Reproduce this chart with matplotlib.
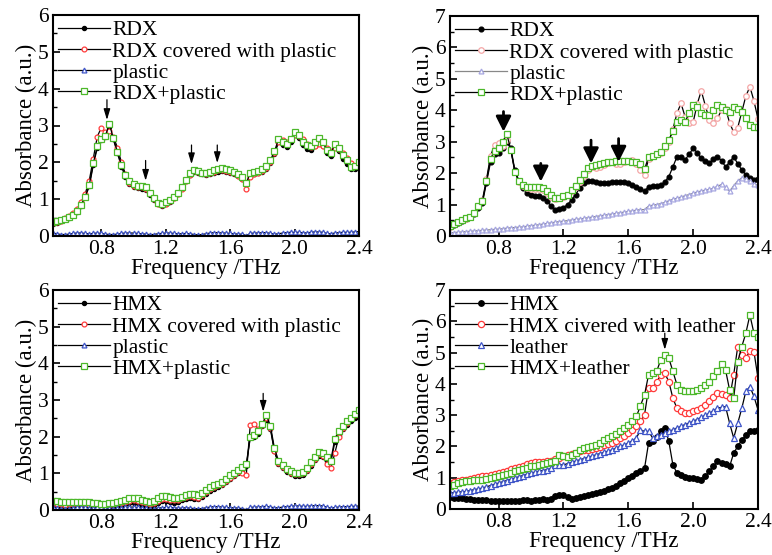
import numpy as np
import matplotlib
matplotlib.use("Agg")
import matplotlib.pyplot as plt

plt.rcParams['font.family'] = ['Liberation Serif', 'DejaVu Serif']
plt.rcParams['font.size'] = 13

# frekuensi (THz), langkah 0.025 dari 0.5 s/d 2.4
freq = np.round(np.arange(0.5, 2.4001, 0.025), 3)

# ---------------- panel (a): RDX / plastic ----------------
rdx_a = [0.33, 0.36, 0.40, 0.45, 0.50, 0.56, 0.66, 0.82, 1.05, 1.35, 1.92, 2.40,
         2.60, 2.68, 2.95, 2.62, 2.25, 1.88, 1.60, 1.42, 1.32, 1.29, 1.28, 1.25,
         1.12, 0.97, 0.86, 0.82, 0.86, 0.93, 1.02, 1.13, 1.30, 1.48, 1.65, 1.74,
         1.71, 1.67, 1.66, 1.69, 1.72, 1.75, 1.76, 1.74, 1.71, 1.67, 1.62, 1.55,
         1.40, 1.62, 1.67, 1.70, 1.75, 1.83, 1.98, 2.22, 2.55, 2.48, 2.42, 2.55,
         2.75, 2.65, 2.48, 2.36, 2.34, 2.45, 2.56, 2.45, 2.25, 2.17, 2.42, 2.30,
         2.10, 1.96, 1.82, 1.82, 1.90]
rdx_cov_a = [0.35, 0.38, 0.42, 0.48, 0.55, 0.62, 0.74, 0.92, 1.15, 1.50, 2.10, 2.70,
             2.94, 2.82, 2.86, 2.70, 2.40, 2.00, 1.68, 1.45, 1.35, 1.32, 1.32, 1.28,
             1.16, 1.00, 0.88, 0.84, 0.88, 0.94, 1.02, 1.13, 1.28, 1.48, 1.66, 1.76,
             1.73, 1.70, 1.68, 1.71, 1.74, 1.78, 1.79, 1.77, 1.74, 1.70, 1.64, 1.55,
             1.28, 1.60, 1.68, 1.72, 1.76, 1.85, 2.00, 2.25, 2.55, 2.60, 2.55, 2.62,
             2.75, 2.72, 2.62, 2.50, 2.42, 2.45, 2.50, 2.45, 2.38, 2.30, 2.38, 2.35,
             2.25, 2.12, 1.98, 1.90, 1.90]
plastic_a = [0.08, 0.06, 0.04, 0.04, 0.05, 0.07, 0.08, 0.08, 0.07, 0.06, 0.07, 0.08,
             0.07, 0.05, 0.04, 0.04, 0.05, 0.07, 0.08, 0.08, 0.08, 0.07, 0.06, 0.05,
             0.04, 0.04, 0.06, 0.07, 0.08, 0.08, 0.07, 0.06, 0.06, 0.07, 0.06, 0.04,
             0.03, 0.04, 0.06, 0.08, 0.09, 0.09, 0.08, 0.08, 0.07, 0.06, 0.05, 0.05,
             0.01, 0.07, 0.08, 0.08, 0.09, 0.09, 0.07, 0.05, 0.06, 0.08, 0.09, 0.10,
             0.10, 0.10, 0.09, 0.08, 0.10, 0.11, 0.11, 0.10, 0.07, 0.06, 0.08, 0.09,
             0.10, 0.10, 0.10, 0.11, 0.12]
rdx_mix_a = [0.39, 0.41, 0.43, 0.47, 0.52, 0.58, 0.68, 0.85, 1.07, 1.38, 1.97, 2.43,
             2.62, 2.72, 3.04, 2.65, 2.29, 1.93, 1.66, 1.48, 1.40, 1.37, 1.36, 1.32,
             1.18, 1.02, 0.90, 0.87, 0.91, 0.98, 1.07, 1.18, 1.34, 1.52, 1.70, 1.79,
             1.76, 1.72, 1.71, 1.74, 1.78, 1.82, 1.84, 1.82, 1.79, 1.75, 1.69, 1.61,
             1.45, 1.70, 1.74, 1.77, 1.82, 1.90, 2.06, 2.30, 2.62, 2.56, 2.50, 2.62,
             2.83, 2.74, 2.56, 2.46, 2.43, 2.55, 2.65, 2.55, 2.33, 2.24, 2.50, 2.40,
             2.20, 2.05, 1.88, 1.90, 2.00]

# ---------------- panel (b): RDX / plastic (tebal) ----------------
rdx_b = [0.28, 0.35, 0.42, 0.48, 0.53, 0.60, 0.70, 0.90, 1.05, 1.70, 2.35, 2.62,
         2.65, 2.80, 3.00, 2.80, 2.10, 1.75, 1.52, 1.38, 1.30, 1.28, 1.27, 1.22,
         1.10, 0.95, 0.84, 0.86, 0.90, 1.00, 1.15, 1.32, 1.52, 1.68, 1.76, 1.76,
         1.72, 1.68, 1.68, 1.70, 1.71, 1.72, 1.73, 1.72, 1.68, 1.62, 1.56, 1.48,
         1.42, 1.57, 1.58, 1.60, 1.62, 1.72, 1.89, 2.20, 2.52, 2.50, 2.42, 2.60,
         2.79, 2.65, 2.47, 2.40, 2.31, 2.45, 2.52, 2.40, 2.20, 2.35, 2.52, 2.30,
         2.10, 1.95, 1.83, 1.78, 1.80]
rdx_cov_b = [0.30, 0.37, 0.44, 0.50, 0.55, 0.62, 0.72, 0.95, 1.15, 1.80, 2.55, 2.90,
             2.95, 2.85, 3.05, 2.75, 2.05, 1.72, 1.58, 1.52, 1.50, 1.50, 1.48, 1.45,
             1.38, 1.25, 1.18, 1.20, 1.24, 1.30, 1.42, 1.56, 1.72, 1.92, 2.10, 2.18,
             2.15, 2.18, 2.26, 2.32, 2.34, 2.30, 2.28, 2.35, 2.40, 2.42, 2.30, 2.10,
             1.95, 2.45, 2.55, 2.60, 2.65, 2.80, 3.00, 3.40, 3.90, 4.22, 3.80, 3.60,
             3.62, 4.20, 4.62, 4.15, 3.70, 3.60, 3.75, 4.00, 4.05, 3.60, 3.30, 3.45,
             3.95, 4.45, 4.75, 4.30, 3.72]
plastic_b = [0.10, 0.11, 0.12, 0.13, 0.14, 0.15, 0.16, 0.17, 0.18, 0.19, 0.20, 0.21,
             0.22, 0.23, 0.25, 0.26, 0.27, 0.28, 0.29, 0.31, 0.33, 0.34, 0.36, 0.38,
             0.40, 0.42, 0.44, 0.46, 0.47, 0.49, 0.51, 0.53, 0.54, 0.56, 0.58, 0.60,
             0.62, 0.64, 0.66, 0.68, 0.70, 0.72, 0.74, 0.76, 0.78, 0.80, 0.82, 0.84,
             0.84, 0.95, 0.98, 1.00, 1.03, 1.07, 1.12, 1.17, 1.20, 1.24, 1.28, 1.32,
             1.36, 1.40, 1.43, 1.46, 1.48, 1.52, 1.58, 1.64, 1.55, 1.42, 1.60, 1.75,
             1.85, 1.82, 1.75, 1.65, 1.62]
rdx_mix_b = [0.32, 0.39, 0.46, 0.51, 0.56, 0.62, 0.72, 0.95, 1.10, 1.75, 2.45, 2.72,
             2.80, 3.00, 3.25, 2.75, 2.05, 1.75, 1.62, 1.57, 1.56, 1.57, 1.56, 1.52,
             1.44, 1.30, 1.20, 1.22, 1.26, 1.32, 1.45, 1.60, 1.78, 1.98, 2.17, 2.24,
             2.26, 2.28, 2.31, 2.34, 2.36, 2.38, 2.39, 2.39, 2.38, 2.37, 2.35, 2.30,
             2.12, 2.52, 2.56, 2.60, 2.68, 2.85, 3.05, 3.35, 3.64, 3.68, 3.64, 3.90,
             4.17, 4.10, 3.90, 3.85, 3.85, 4.00, 4.17, 4.10, 4.00, 3.95, 4.11, 4.05,
             3.95, 3.75, 3.53, 3.48, 3.48]

# ---------------- panel (c): HMX / plastic ----------------
hmx_c = [0.12, 0.11, 0.10, 0.10, 0.10, 0.11, 0.11, 0.10, 0.10, 0.09, 0.08, 0.07,
         0.07, 0.08, 0.09, 0.10, 0.12, 0.14, 0.16, 0.18, 0.20, 0.18, 0.15, 0.12,
         0.11, 0.13, 0.19, 0.24, 0.25, 0.22, 0.20, 0.22, 0.26, 0.30, 0.33, 0.31,
         0.30, 0.36, 0.44, 0.51, 0.57, 0.62, 0.68, 0.76, 0.85, 0.93, 1.00, 1.08,
         1.20, 1.98, 2.00, 2.08, 2.28, 2.45, 2.20, 1.60, 1.26, 1.14, 1.05, 0.98,
         0.93, 0.92, 0.96, 1.06, 1.20, 1.36, 1.48, 1.44, 1.35, 1.30, 1.85, 2.05,
         2.20, 2.32, 2.42, 2.52, 2.58]
hmx_cov_c = [0.18, 0.17, 0.16, 0.15, 0.16, 0.17, 0.17, 0.16, 0.15, 0.14, 0.13, 0.12,
             0.12, 0.13, 0.14, 0.16, 0.18, 0.20, 0.22, 0.25, 0.26, 0.24, 0.21, 0.18,
             0.17, 0.19, 0.25, 0.30, 0.31, 0.28, 0.26, 0.28, 0.32, 0.36, 0.38, 0.36,
             0.34, 0.40, 0.48, 0.56, 0.62, 0.67, 0.72, 0.80, 0.88, 0.96, 1.03, 1.00,
             0.95, 2.33, 2.35, 2.20, 2.32, 2.50, 2.25, 1.60, 1.28, 1.18, 1.10, 1.02,
             0.98, 0.97, 1.00, 1.10, 1.25, 1.40, 1.52, 1.48, 1.25, 1.15, 1.55, 2.00,
             2.25, 2.38, 2.50, 2.60, 2.72]
plastic_c = [0.07, 0.05, 0.03, 0.03, 0.04, 0.06, 0.08, 0.08, 0.07, 0.06, 0.06, 0.07,
             0.07, 0.06, 0.05, 0.04, 0.05, 0.06, 0.07, 0.08, 0.08, 0.07, 0.06, 0.05,
             0.04, 0.04, 0.05, 0.06, 0.07, 0.07, 0.06, 0.05, 0.05, 0.06, 0.05, 0.04,
             0.03, 0.04, 0.06, 0.08, 0.09, 0.09, 0.08, 0.07, 0.06, 0.06, 0.05, 0.04,
             0.00, 0.07, 0.08, 0.08, 0.09, 0.10, 0.08, 0.06, 0.06, 0.08, 0.09, 0.10,
             0.11, 0.11, 0.10, 0.10, 0.11, 0.12, 0.12, 0.11, 0.08, 0.05, 0.07, 0.08,
             0.09, 0.09, 0.10, 0.10, 0.11]
hmx_mix_c = [0.25, 0.24, 0.23, 0.23, 0.23, 0.23, 0.22, 0.23, 0.23, 0.22, 0.20, 0.18,
             0.17, 0.17, 0.18, 0.20, 0.23, 0.25, 0.28, 0.32, 0.34, 0.32, 0.28, 0.25,
             0.23, 0.24, 0.32, 0.37, 0.39, 0.35, 0.32, 0.33, 0.36, 0.41, 0.45, 0.44,
             0.41, 0.47, 0.55, 0.62, 0.68, 0.72, 0.77, 0.85, 0.95, 1.02, 1.09, 1.17,
             1.25, 2.00, 2.05, 2.15, 2.35, 2.58, 2.30, 1.68, 1.35, 1.22, 1.13, 1.06,
             1.02, 1.00, 1.05, 1.15, 1.30, 1.45, 1.57, 1.55, 1.45, 1.35, 1.95, 2.15,
             2.30, 2.42, 2.52, 2.62, 2.72]

# ---------------- panel (d): HMX / leather ----------------
hmx_d = [0.37, 0.36, 0.35, 0.34, 0.33, 0.32, 0.30, 0.29, 0.28, 0.28, 0.27, 0.27,
         0.27, 0.27, 0.27, 0.27, 0.27, 0.27, 0.28, 0.28, 0.27, 0.28, 0.30, 0.31,
         0.30, 0.32, 0.40, 0.46, 0.46, 0.38, 0.33, 0.35, 0.37, 0.41, 0.45, 0.48,
         0.51, 0.55, 0.59, 0.63, 0.67, 0.74, 0.82, 0.90, 0.99, 1.07, 1.15, 1.22,
         1.30, 2.11, 2.16, 2.30, 2.48, 2.59, 2.16, 1.41, 1.15, 1.08, 1.02, 1.00,
         0.99, 0.96, 0.94, 1.05, 1.20, 1.36, 1.52, 1.48, 1.44, 1.36, 1.79, 2.00,
         2.21, 2.35, 2.48, 2.50, 2.53]
hmx_cov_d = [0.83, 0.86, 0.90, 0.92, 0.94, 0.97, 1.00, 1.02, 1.04, 1.07, 1.10, 1.12,
             1.15, 1.19, 1.23, 1.27, 1.31, 1.35, 1.39, 1.43, 1.47, 1.49, 1.50, 1.51,
             1.52, 1.55, 1.60, 1.64, 1.68, 1.72, 1.76, 1.80, 1.84, 1.87, 1.90, 1.92,
             1.95, 1.99, 2.03, 2.07, 2.11, 2.18, 2.26, 2.34, 2.43, 2.52, 2.64, 2.80,
             3.01, 3.86, 3.88, 4.05, 4.29, 4.34, 4.07, 3.54, 3.22, 3.12, 3.06, 3.08,
             3.12, 3.17, 3.22, 3.33, 3.44, 3.57, 3.70, 3.68, 3.63, 3.54, 4.29, 5.19,
             4.93, 4.82, 5.05, 5.03, 4.18]
leather_d = [0.51, 0.52, 0.54, 0.55, 0.56, 0.59, 0.62, 0.64, 0.67, 0.71, 0.75, 0.79,
             0.83, 0.87, 0.91, 0.95, 0.99, 1.03, 1.07, 1.11, 1.15, 1.18, 1.21, 1.23,
             1.26, 1.30, 1.41, 1.41, 1.41, 1.45, 1.49, 1.53, 1.57, 1.61, 1.65, 1.69,
             1.73, 1.77, 1.81, 1.85, 1.89, 1.95, 2.00, 2.05, 2.11, 2.18, 2.27, 2.53,
             2.48, 2.48, 2.27, 2.32, 2.37, 2.42, 2.48, 2.53, 2.59, 2.64, 2.70, 2.75,
             2.80, 2.86, 2.93, 3.00, 3.06, 3.14, 3.22, 3.25, 3.27, 2.74, 2.27, 2.74,
             3.22, 3.76, 3.91, 3.60, 3.17]
hmx_mix_d = [0.75, 0.78, 0.82, 0.85, 0.88, 0.90, 0.92, 0.93, 0.94, 0.97, 1.00, 1.02,
             1.04, 1.08, 1.12, 1.16, 1.20, 1.24, 1.28, 1.32, 1.36, 1.39, 1.42, 1.45,
             1.47, 1.49, 1.52, 1.73, 1.68, 1.65, 1.73, 1.80, 1.89, 1.95, 1.99, 2.02,
             2.05, 2.12, 2.20, 2.26, 2.32, 2.40, 2.48, 2.58, 2.69, 2.82, 2.96, 3.30,
             3.65, 4.29, 4.34, 4.40, 4.77, 4.93, 4.82, 4.40, 3.97, 3.80, 3.76, 3.76,
             3.76, 3.80, 3.86, 3.95, 4.07, 4.25, 4.40, 4.63, 4.44, 3.80, 3.54, 4.71,
             5.19, 5.62, 6.20, 5.62, 5.50]

# label legenda
labels_a = ['RDX', 'RDX covered with plastic', 'plastic', 'RDX+plastic']
labels_c = ['HMX', 'HMX covered with plastic', 'plastic', 'HMX+plastic']
labels_d = ['HMX', 'HMX civered with leather', 'leather', 'HMX+leather']

# posisi panah (THz, ujung, pangkal)
arrows_a = [(0.835, 3.15, 3.70), (1.075, 1.50, 2.05), (1.36, 1.95, 2.47), (1.52, 1.98, 2.47)]
arrows_b = [(0.83, 3.32, 3.96), (1.06, 1.73, 2.31), (1.37, 2.31, 3.05), (1.54, 2.36, 3.10)]
arrows_c = [(1.805, 2.68, 3.18)]
arrows_d = [(1.825, 5.09, 5.62)]

W, H = 772, 555
fig = plt.figure(figsize=(W / 100, H / 100), dpi=100)

# kotak sumbu dalam piksel (kiri, atas, kanan, bawah)
boxes = [(53, 15, 359, 236), (450, 16, 758, 236), (53, 290, 359, 510), (450, 290, 758, 509)]


def make_ax(box):
    l, t, r, b = box
    ax = fig.add_axes([l / W, 1 - b / H, (r - l) / W, (b - t) / H])
    return ax


def style(ax, ymax):
    ax.set_xlim(0.5, 2.4)
    ax.set_ylim(0, ymax)
    ax.set_xticks([0.8, 1.2, 1.6, 2.0, 2.4])
    ax.set_xticklabels(['0.8', '1.2', '1.6', '2.0', '2.4'])
    ax.set_yticks(range(0, ymax + 1))
    ax.set_yticks(np.arange(0.5, ymax, 1.0), minor=True)
    ax.tick_params(direction='in', length=5, width=1.2, labelsize=15.5, pad=3)
    ax.tick_params(which='minor', direction='in', length=3, width=1.0)
    for s in ax.spines.values():
        s.set_linewidth(1.5)
    ax.set_xlabel('Frequency /THz', fontsize=16.5, labelpad=-1)
    ax.set_ylabel('Absorbance (a.u.)', fontsize=16.5, labelpad=1)


def draw(ax, series, labels, cols, lcols, ms):
    mk = ['o', 'o', '^', 's']
    for k in range(4):
        fc = 'black' if k == 0 else 'white'
        ax.plot(freq, series[k], color=lcols[k], lw=0.9, marker=mk[k], ms=ms[k],
                mfc=fc, mec=cols[k], mew=0.9, label=labels[k])
    ax.legend(loc='upper left', frameon=False, fontsize=15.5, handlelength=2.4,
              handletextpad=0.1, labelspacing=0.05, borderaxespad=0.1,
              borderpad=0.15, numpoints=1)


def arrows(ax, arr, bold=False):
    for x, tip, tail in arr:
        if bold:
            ax.annotate('', xy=(x, tip), xytext=(x, tail),
                        arrowprops=dict(arrowstyle='-|>,head_length=0.7,head_width=0.35',
                                        color='black', lw=2.0, shrinkA=0, shrinkB=0))
        else:
            ax.annotate('', xy=(x, tip), xytext=(x, tail),
                        arrowprops=dict(arrowstyle='-|>,head_length=0.5,head_width=0.15',
                                        color='black', lw=0.9, shrinkA=0, shrinkB=0))


red = '#ff3a3a'
blue = '#3f55c8'
green = '#4cb82a'

ax = make_ax(boxes[0])
draw(ax, [rdx_a, rdx_cov_a, plastic_a, rdx_mix_a], labels_a,
     ['black', red, blue, green], ['black'] * 4, [3, 3.5, 3.5, 4])
arrows(ax, arrows_a)
style(ax, 6)

ax = make_ax(boxes[1])
draw(ax, [rdx_b, rdx_cov_b, plastic_b, rdx_mix_b], labels_a,
     ['black', '#f4a6a6', '#a6a6e0', green], ['black', 'black', '#888888', 'black'],
     [3.5, 4, 3.5, 4.5])
arrows(ax, arrows_b, bold=True)
style(ax, 7)

ax = make_ax(boxes[2])
draw(ax, [hmx_c, hmx_cov_c, plastic_c, hmx_mix_c], labels_c,
     ['black', red, blue, green], ['black'] * 4, [3, 3.5, 3.5, 4])
arrows(ax, arrows_c)
style(ax, 6)

ax = make_ax(boxes[3])
draw(ax, [hmx_d, hmx_cov_d, leather_d, hmx_mix_d], labels_d,
     ['black', red, blue, green], ['black'] * 4, [4, 4.5, 4.5, 4.5])
arrows(ax, arrows_d)
style(ax, 7)

plt.savefig('out.png', dpi=100)
